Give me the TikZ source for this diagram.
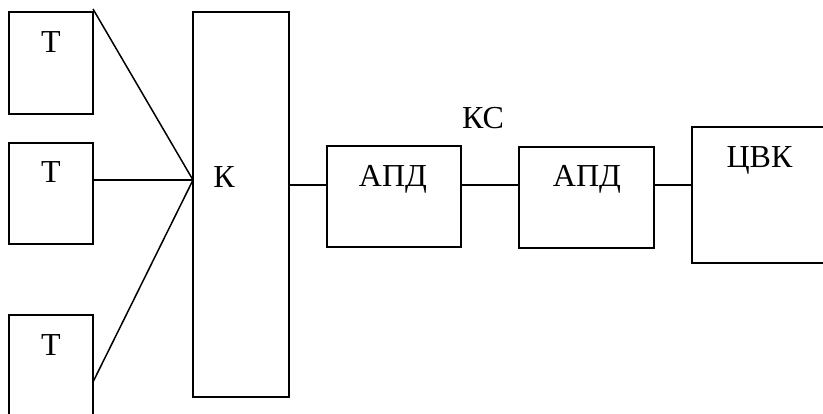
\documentclass[tikz,border=0pt]{standalone}
\usepackage{fontspec}
\setmainfont{Liberation Serif}
\begin{document}
\begin{tikzpicture}[x=1pt,y=-1pt,
  box/.style={draw=black,line width=1.5pt,rectangle,inner sep=0pt},
  lbl/.style={anchor=base,inner sep=0pt,font=\fontsize{32}{38}\selectfont},
  wire/.style={draw=black,line width=1.5pt}]
\useasboundingbox (0,0) rectangle (823,414);
\clip (0,0) rectangle (823,414);
% boxes
\node[box,minimum width=84pt,minimum height=102pt] (t1) at (51,63) {};
\node[box,minimum width=84pt,minimum height=101pt] (t2) at (51,193.5) {};
\node[box,minimum width=84pt,minimum height=110pt] (t3) at (51,370) {};
\node[box,minimum width=96pt,minimum height=385pt] (k) at (241,204.5) {};
\node[box,minimum width=134pt,minimum height=101pt] (apd1) at (394,196.5) {};
\node[box,minimum width=135pt,minimum height=101pt] (apd2) at (586.5,197.5) {};
\node[box,minimum width=148pt,minimum height=136pt] (cvk) at (766,195) {};
% labels
\node[lbl] (lt1) at (51,53) {Т};
\node[lbl] (lt2) at (51,183) {Т};
\node[lbl] (lt3) at (51,356) {Т};
\node[lbl] (lk) at (224,188) {К};
\node[lbl] (la1) at (393,187) {АПД};
\node[lbl] (lks) at (483,129) {КС};
\node[lbl] (la2) at (587,187) {АПД};
\node[lbl] (lcvk) at (759.5,168) {ЦВК};
% connectors
\coordinate (hub) at (193,180);
\coordinate (s1) at (93,9);
\coordinate (s3) at (93,382);
\draw[wire] (s1) -- (hub);
\draw[wire] (t2.east |- hub) -- (hub);
\draw[wire] (s3) -- (hub);
\draw[wire] (k.east |- 0,185) -- (apd1.west |- 0,185);
\draw[wire] (apd1.east |- 0,185) -- (apd2.west |- 0,185);
\draw[wire] (apd2.east |- 0,185) -- (cvk.west |- 0,185);
\end{tikzpicture}
\end{document}
